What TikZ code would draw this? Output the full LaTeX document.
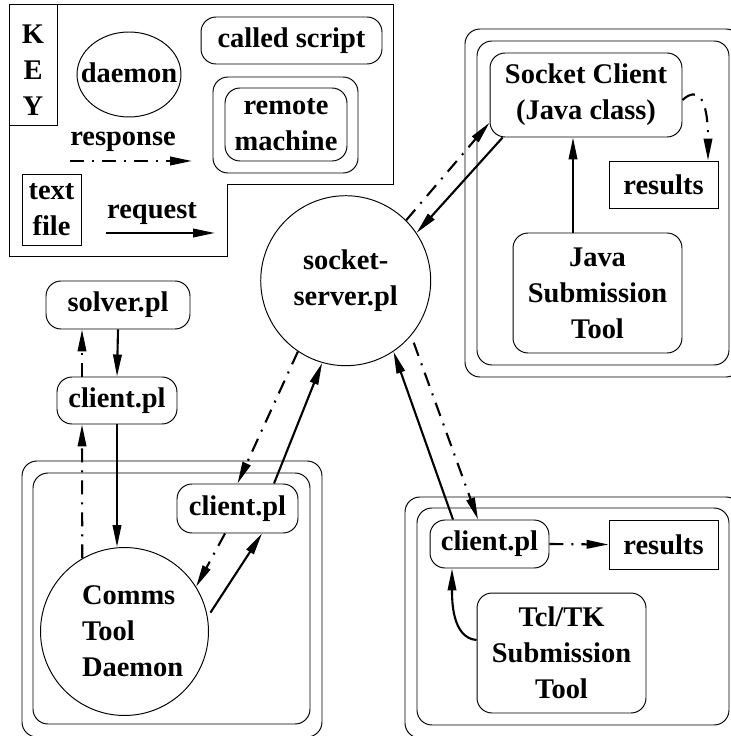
\documentclass[tikz,border=0pt]{standalone}
\usepackage{fontspec}
\setmainfont{Liberation Serif}
\usepackage{tikz}
\usetikzlibrary{arrows.meta,calc}

\tikzset{
  scr/.style={draw,rounded corners=0.3cm,line width=0.55pt},
  txtfile/.style={draw,line width=0.55pt},
  dmn/.style={draw,circle,line width=0.55pt,inner sep=0pt},
  box/.style={rounded corners=0.3cm,line width=0.55pt},
  req/.style={line width=1.2pt,-{Triangle[length=0.44cm,width=0.17cm]}},
  resp/.style={req,dash pattern=on 0.28cm off 0.16cm on 0.04cm off 0.16cm}
}

\begin{document}
\begin{tikzpicture}[x=0.02cm,y=-0.02cm,font=\fontsize{16.2}{20.5}\selectfont\bfseries]
    \useasboundingbox (0,0) rectangle (730,736);

    \draw[line width=0.55pt] (9,4) -- (393,4) -- (393,184) -- (227,184) -- (227,256)
    -- (9,256) -- cycle;
    \draw[line width=0.55pt] (9,4) rectangle (57,125);
    \node[align=center] (key) at (33,70) {K\\E\\Y};
    \node (daemon) at (129,73) {daemon}; \draw[line width=0.55pt] (129,74.5)
    ellipse (1.04cm and 0.85cm);
    \node[scr,minimum width=3.62cm,minimum height=0.94cm] (called) at (291.5,40.5)
    {called script};
    \draw[box] (213,77) rectangle (358,173); \node[scr,minimum width=2.44cm,minimum
    height=1.46cm,align=center] (remote) at (286,124.5) {remote\\machine};
    \node (resplbl) at (123,142) {response}; \coordinate (r0) at (70,161);
    \coordinate (r1) at (192,161); \draw[resp] (r0) -- (r1);
    \node[txtfile,minimum width=1.18cm,minimum height=1.42cm,align=center] (file)
    at (51.5,209.5) {text\\file};
    \node (reqlbl) at (152,214) {request}; \coordinate (q0) at (106,233);
    \coordinate (q1) at (215,233); \draw[req] (q0) -- (q1);

    \node[dmn,minimum size=3.4cm,align=center] (server) at (345.7,280.7)
    {socket-\\server.pl};

    \draw[box] (465,29) rectangle (741,377); \draw[box] (477,41) rectangle (729,365);
    \node[scr,minimum width=3.84cm,minimum height=1.68cm,align=center] (sockcl)
    at (586,95) {Socket Client\\(Java class)};
    \node[txtfile,minimum width=2.18cm,minimum height=0.94cm] (jres) at (663.5,184.5)
    {results};
    \node[scr,minimum width=3.38cm,minimum height=2.4cm,align=center] (javatool)
    at (597.5,293) {Java\\Submission\\Tool};
    \draw[req] ($(javatool.north)+(-24.5,0)$) -- ($(sockcl.south)+(-13,0)$);
    \draw[resp] ($(sockcl.east)+(0,5)$) .. controls (698,86) and (708,98)
    .. ($(jres.north)+(44.5,0)$);
    \draw[resp] (server.45) -- (sockcl.196); \draw[req] (sockcl.207) -- (server.34);

    \node[scr,minimum width=2.88cm,minimum height=0.96cm] (solver) at (118,305)
    {solver.pl};
    \node[scr,minimum width=2.4cm,minimum height=0.94cm] (cl1) at (117,400.5)
    {client.pl};
    \draw[req] (solver.south) -- (cl1.north);
    \draw[resp] ($(cl1.north)+(-35,0)$) -- ($(solver.south)+(-36,0)$);

    \draw[box] (22,461) rectangle (322,737); \draw[box] (33,473) rectangle (310,724);
    \node[dmn,minimum size=3.36cm,text width=1.7cm,align=left] (comms)
    at (124.5,631.5) {Comms\\Tool\\\mbox{Daemon}};
    \node[scr,minimum width=2.42cm,minimum height=0.98cm] (cl2) at (237.5,508.5)
    {client.pl};
    \draw[resp] (comms.120) -- ($(cl1.south)+(-35,0)$);
    \draw[req] (cl1.south) -- (cl1.south |- comms.north);
    \draw[resp] ($(cl2.south)+(-12.5,0)$) -- (comms.32);
    \draw[req,shorten <=0.1cm] (comms.10) -- ($(cl2.south)+(24.5,0)$);
    \draw[resp] (server.236) -- (cl2.north);
    \draw[req] ($(cl2.north)+(36.5,0)$) -- (server.254);

    \draw[box] (405,497) rectangle (741,738); \draw[box] (417,508) rectangle (729,725);
    \node[scr,minimum width=2.38cm,minimum height=0.96cm] (cl3) at (489.5,544)
    {client.pl};
    \node[txtfile,minimum width=2.18cm,minimum height=0.98cm] (tres) at (663.5,544.5)
    {results};
    \node[scr,minimum width=3.38cm,minimum height=2.4cm,align=center] (tcltool)
    at (561.5,653) {Tcl/TK\\Submission\\Tool};
    \draw[resp] (cl3.east) -- (tres.west);
    \draw[req] ($(tcltool.west)+(0,-13)$) .. controls (452,638) and (452,600)
    .. ($(cl3.south)+(-37.5,0)$);
    \draw[req] ($(cl3.north)+(-36.5,0)$) -- (server.-56);
    \draw[resp,shorten <=0.15cm] (server.-40) -- ($(cl3.north)+(-11.5,0)$);

  \end{tikzpicture}
\end{document}
